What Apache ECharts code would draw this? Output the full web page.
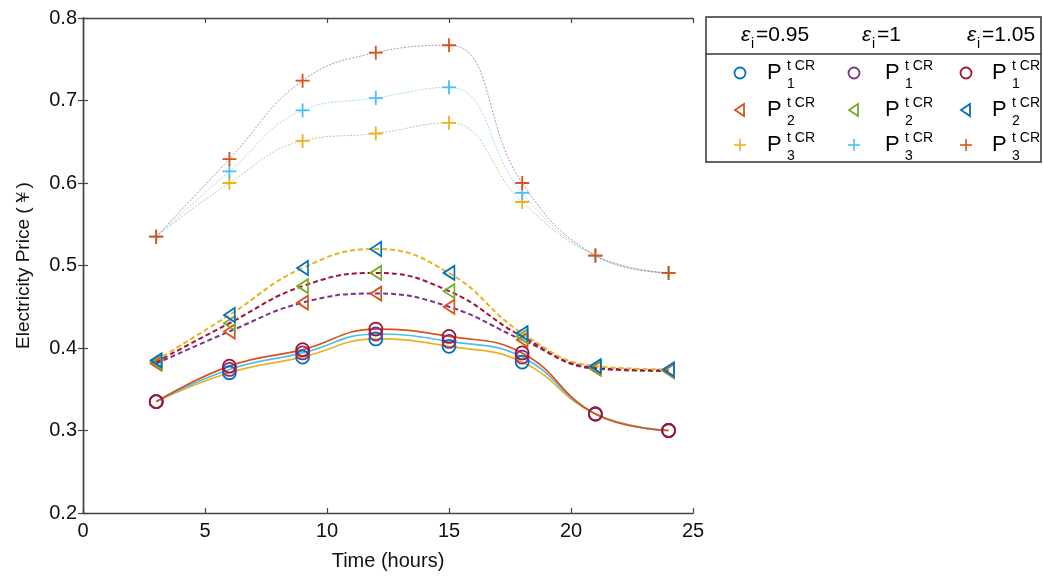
<!DOCTYPE html>
<html>
<head>
<meta charset="utf-8">
<script src="https://cdn.jsdelivr.net/npm/echarts@6/dist/echarts.min.js"></script>
<style>
html,body{margin:0;padding:0;background:#fff;}
#chart{width:1043px;height:576px;}
</style>
</head>
<body>
<div id="chart"></div>
<script>
// ---- data ----
const hours = [3, 6, 9, 12, 15, 18, 21, 24];
const epsilonLabels = ['0.95', '1', '1.05'];
const p1_e095 = [0.335, 0.370, 0.389, 0.411, 0.402, 0.383, 0.320, 0.300];
const p1_e100 = [0.335, 0.374, 0.394, 0.417, 0.408, 0.389, 0.320, 0.300];
const p1_e105 = [0.335, 0.378, 0.398, 0.423, 0.414, 0.394, 0.320, 0.300];
const p2_e095 = [0.381, 0.420, 0.455, 0.466, 0.450, 0.410, 0.375, 0.372];
const p2_e100 = [0.383, 0.430, 0.475, 0.491, 0.469, 0.414, 0.376, 0.373];
const p2_e105 = [0.385, 0.440, 0.497, 0.520, 0.491, 0.418, 0.378, 0.374];
const p3_e095 = [0.535, 0.600, 0.651, 0.660, 0.673, 0.577, 0.512, 0.491];
const p3_e100 = [0.535, 0.614, 0.688, 0.703, 0.716, 0.588, 0.512, 0.491];
const p3_e105 = [0.535, 0.629, 0.724, 0.758, 0.767, 0.600, 0.512, 0.491];
const xTicks = [0, 5, 10, 15, 20, 25];
const yTicks = [0.2, 0.3, 0.4, 0.5, 0.6, 0.7, 0.8];

// ---- styles ----
const C = {blue:'#0072BD', orange:'#D95319', yellow:'#EDB120', purple:'#7E2F8E', green:'#77AC30', cyan:'#4DBEEE', dred:'#A2142F'};
const FONT = '"Liberation Sans", Arial, sans-serif';
const SYM = {
  circle: 'circle',
  tri: 'path://M0,5L9,0L9,10Z',
  plus: 'path://M5,0L5,10M0,5L10,5'
};
const SIZE = {circle: 13, tri: [12, 14], plus: 14};

const defs = [
  {name:'P1 e0.95', data:p1_e095, sym:'circle', mc:C.blue,   lc:C.yellow, kind:1},
  {name:'P1 e1',    data:p1_e100, sym:'circle', mc:C.purple, lc:C.cyan,   kind:1},
  {name:'P1 e1.05', data:p1_e105, sym:'circle', mc:C.dred,   lc:C.orange, kind:1},
  {name:'P2 e0.95', data:p2_e095, sym:'tri',    mc:C.orange, lc:C.purple, kind:2},
  {name:'P2 e1',    data:p2_e100, sym:'tri',    mc:C.green,  lc:C.dred,   kind:2},
  {name:'P2 e1.05', data:p2_e105, sym:'tri',    mc:C.blue,   lc:C.yellow, kind:2},
  {name:'P3 e0.95', data:p3_e095, sym:'plus',   mc:C.yellow, lc:C.green,  kind:3},
  {name:'P3 e1',    data:p3_e100, sym:'plus',   mc:C.cyan,   lc:C.cyan,   kind:3},
  {name:'P3 e1.05', data:p3_e105, sym:'plus',   mc:C.orange, lc:C.purple, kind:3}
];

const series = defs.map(d => {
  let ls;
  if (d.kind === 1) ls = {color:d.lc, width:1.7, type:'solid'};
  else if (d.kind === 2) ls = {color:d.lc, width:2, type:[5,3]};
  else ls = {color:d.lc, width:1, type:[2,1.5], opacity:0.55};
  return {
    name: d.name, type:'line', xAxisIndex:0, yAxisIndex:0,
    data: hours.map((h,i) => [h, d.data[i]]),
    smooth: 0.45,
    symbol: SYM[d.sym], symbolSize: SIZE[d.sym], symbolKeepAspect: true,
    showAllSymbol: true,
    itemStyle: {color:'rgba(0,0,0,0)', borderColor:d.mc, borderWidth:1.8},
    lineStyle: ls,
    emphasis: {disabled:true},
    animation:false
  };
});

// ---- legend graphic ----
const LX = 706, LY = 17, LW = 335, LH = 145, SEP = 54;
const colMarkerX = [740, 854, 966];
const colPX = [767, 885, 992];
const rowY = [73, 110, 145];
const headerX = [741, 862, 967];
const graphic = [];
graphic.push({type:'rect', shape:{x:LX, y:LY, width:LW, height:LH}, style:{fill:'#fff', stroke:'#333', lineWidth:1.5}, z:10});
graphic.push({type:'line', shape:{x1:LX, y1:SEP, x2:LX+LW, y2:SEP}, style:{stroke:'#333', lineWidth:1.5}, z:11});
epsilonLabels.forEach((lab, c) => {
  const x = headerX[c];
  graphic.push({type:'text', x:x, y:35, z:12, style:{text:'ε', font:'italic 21px '+FONT, fill:'#000', textVerticalAlign:'middle'}});
  graphic.push({type:'text', x:x+10, y:44, z:12, style:{text:'i', font:'14px '+FONT, fill:'#000', textVerticalAlign:'middle'}});
  graphic.push({type:'text', x:x+15, y:35, z:12, style:{text:'='+lab, font:'21px '+FONT, fill:'#000', textVerticalAlign:'middle'}});
});
defs.forEach((d, k) => {
  const c = k % 3, r = d.kind - 1;
  const mx = colMarkerX[c], my = rowY[r], col = d.mc;
  if (d.sym === 'circle') {
    graphic.push({type:'circle', shape:{cx:mx, cy:my, r:5.5}, style:{fill:'none', stroke:col, lineWidth:1.8}, z:12});
  } else if (d.sym === 'tri') {
    graphic.push({type:'polygon', shape:{points:[[mx-5,my],[mx+4,my-6],[mx+4,my+6]]}, style:{fill:'none', stroke:col, lineWidth:1.8}, z:12});
  } else {
    graphic.push({type:'line', shape:{x1:mx-6, y1:my, x2:mx+6, y2:my}, style:{stroke:col, lineWidth:1.6}, z:12});
    graphic.push({type:'line', shape:{x1:mx, y1:my-6, x2:mx, y2:my+6}, style:{stroke:col, lineWidth:1.6}, z:12});
  }
  const px = colPX[c];
  graphic.push({type:'text', x:px, y:my, z:12, style:{text:'P', font:'22px '+FONT, fill:'#000', textVerticalAlign:'middle'}});
  graphic.push({type:'text', x:px+20, y:my-7, z:12, style:{text:'t CR', font:'14px '+FONT, fill:'#000', textVerticalAlign:'middle'}});
  graphic.push({type:'text', x:px+20, y:my+11, z:12, style:{text:String(d.kind), font:'14px '+FONT, fill:'#000', textVerticalAlign:'middle'}});
});

const axisLine = {show:true, lineStyle:{color:'#444', width:1.4}};
const axisTick = {show:true, inside:true, length:5, lineStyle:{color:'#444', width:1.2}};
const labelStyle = {color:'#111', fontSize:20, fontFamily:FONT};

const option = {
  backgroundColor:'#fff',
  animation:false,
  grid:{left:83, right:350, top:18, bottom:63, containLabel:false},
  xAxis:[{
    type:'value', min:xTicks[0], max:xTicks[xTicks.length-1], interval:5,
    name:'Time (hours)', nameLocation:'middle', nameGap:38,
    nameTextStyle:{color:'#111', fontSize:20, fontFamily:FONT},
    axisLine, axisTick, splitLine:{show:false},
    axisLabel:Object.assign({margin:8}, labelStyle)
  },{
    type:'value', position:'top', min:xTicks[0], max:xTicks[xTicks.length-1], interval:5,
    axisLine, axisTick, axisLabel:{show:false}, splitLine:{show:false}
  }],
  yAxis:[{
    type:'value', min:yTicks[0], max:yTicks[yTicks.length-1], interval:0.1,
    name:'Electricity Price (￥)', nameLocation:'middle', nameGap:50, nameRotate:90,
    nameTextStyle:{color:'#111', fontSize:19, fontFamily:FONT},
    axisLine, axisTick, splitLine:{show:false},
    axisLabel:Object.assign({margin:6, formatter:v => v.toFixed(1)}, labelStyle)
  },{
    type:'value', position:'right', min:yTicks[0], max:yTicks[yTicks.length-1], interval:0.1,
    axisLine, axisTick, axisLabel:{show:false}, splitLine:{show:false}
  }],
  series,
  graphic
};
const chart = echarts.init(document.getElementById('chart'), null, {renderer:'canvas'});
chart.setOption(option);
</script>
</body>
</html>
